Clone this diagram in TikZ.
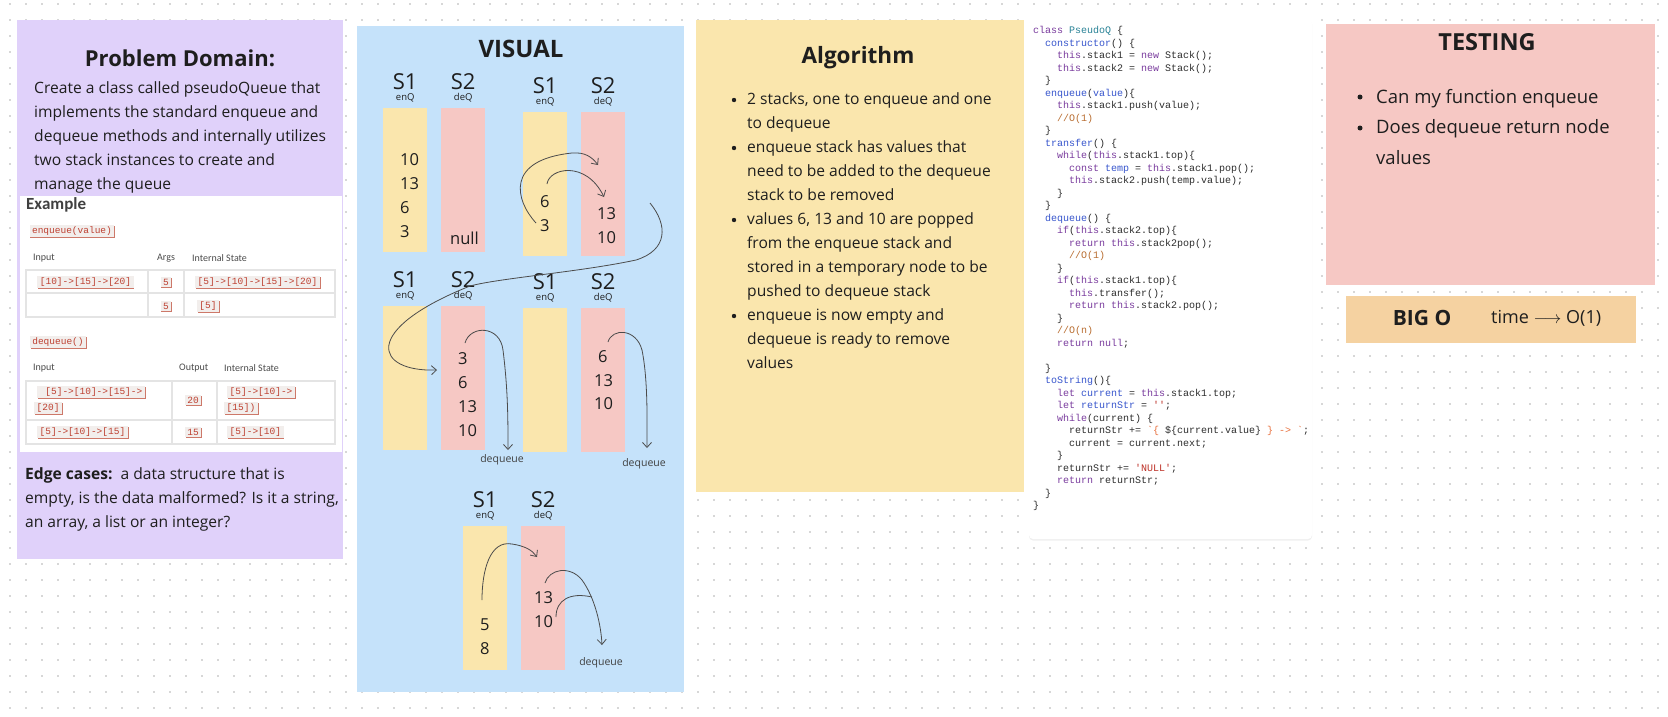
\documentclass[tikz,border=0pt]{standalone}
\usepackage{fontspec}
\setmainfont{Open Sans}
\setmonofont{Liberation Mono}
\newfontfamily\tablefont{Carlito}
\usepackage{tikz}
\usetikzlibrary{arrows.meta,shadows}

\definecolor{domainbg}{RGB}{224,209,250}
\definecolor{visualbg}{RGB}{197,226,250}
\definecolor{stackyel}{RGB}{250,230,173}
\definecolor{stackpink}{RGB}{246,200,196}
\definecolor{bigobg}{RGB}{245,210,161}
\definecolor{ink}{RGB}{30,30,30}
\definecolor{dotgray}{RGB}{215,215,215}
\definecolor{chipbg}{RGB}{242,238,236}
\definecolor{chiptxt}{RGB}{190,65,50}
\definecolor{chipedge}{RGB}{205,120,105}
\definecolor{rulegray}{RGB}{228,228,228}
\definecolor{kwpurple}{RGB}{122,60,158}
\definecolor{fnblue}{RGB}{55,85,205}
\definecolor{clsteal}{RGB}{40,130,150}
\definecolor{cmtbrown}{RGB}{185,110,50}
\definecolor{tplorange}{RGB}{232,112,62}
\definecolor{strred}{RGB}{190,50,40}
\definecolor{codeink}{RGB}{45,45,45}

\newcommand{\ckw}[1]{\textcolor{kwpurple}{#1}}
\newcommand{\cfn}[1]{\textcolor{fnblue}{#1}}
\newcommand{\ccm}[1]{\textcolor{cmtbrown}{#1}}
\newcommand{\cst}[1]{\textcolor{strred}{#1}}
\newcommand{\ctp}[1]{\textcolor{tplorange}{#1}}
\newcommand{\cind}[1]{\hspace*{#1\dimexpr 6pt\relax}}

\begin{document}
\begin{tikzpicture}[x=1pt,y=-1pt,
  every node/.style={text=ink},
  title/.style={font=\bfseries\fontsize{22}{26}\selectfont},
  body/.style={anchor=base west, inner sep=0, align=left, font=\fontsize{15.6}{24}\selectfont},
  chip/.style={fill=chipbg, text=chiptxt, inner xsep=2.5pt, inner ysep=1.8pt,
    font=\ttfamily\fontsize{9.5}{11}\selectfont,
    general shadow={fill=chipedge, shadow xshift=0.8pt, shadow yshift=-0.8pt}},
  colhead/.style={anchor=west, inner sep=0, text=ink!80, font=\tablefont\fontsize{10}{12}\selectfont},
  tablerule/.style={draw=rulegray, line width=1.2},
  stackone/.style={fill=stackyel, minimum width=44, minimum height=144, anchor=north west, inner sep=0},
  stacktwo/.style={stackone, fill=stackpink},
  slabel/.style={font=\fontsize{22}{24}\selectfont, inner sep=0},
  qlabel/.style={font=\fontsize{9.5}{10}\selectfont, inner sep=0},
  val/.style={anchor=west, inner sep=0, font=\fontsize{16.5}{18}\selectfont},
  hand/.style={draw=ink!80, line width=0.8, -{Straight Barb[length=5pt,width=9pt]}},
  note/.style={font=\fontsize{10.5}{12}\selectfont, inner sep=0, text=ink!85},
  codetext/.style={anchor=base west, inner sep=0, align=left, text=codeink, font=\ttfamily\fontsize{10}{12.5}\selectfont},
  dotgrid/.style={draw=dotgray, line width=2, dash pattern=on 2pt off 14pt}]

\useasboundingbox[fill=white] (0,0) rectangle (1668,716);
\foreach \r in {0,...,44}
  \draw[dotgrid] (9,4+16*\r) -- (1668,4+16*\r);

\fill[domainbg] (17,20) rectangle (343,559);
\fill[visualbg] (357,26) rectangle (684,692);
\fill[stackyel] (696,20) rectangle (1024,492);
\path[fill=white, rounded corners=4, drop shadow={opacity=0.12, shadow xshift=0pt, shadow yshift=-1.5pt}]
  (1029,19) rectangle (1312,539);
\fill[stackpink] (1326,24) rectangle (1655,285);
\fill[bigobg] (1346,296) rectangle (1636,343);

\node[title] (domaintitle) at (180,58) {Problem Domain:};
\node[body] (domaintext) at (34,189) {Create a class called pseudoQueue that\\implements the standard enqueue and\\dequeue methods and internally utilizes\\two stack instances to create and\\manage the queue};

\fill[white] (20,196) rectangle (342,452);
\node[anchor=west, inner sep=0, text=ink!85, font=\tablefont\bfseries\fontsize{17}{20}\selectfont] (example) at (26,205) {Example};
\node[chip] (enqcall) at (72,231) {enqueue(value)};
\node[colhead] (inhead1) at (33,258) {Input};
\node[colhead] (arghead) at (157,258) {Args};
\node[colhead] (statehead1) at (192,258) {Internal State};
\draw[tablerule] (26,270) rectangle (335,317) (26,293) -- (335,293) (148,270) -- (148,317) (184,270) -- (184,317);
\node[chip] (in1) at (85.5,282) {[10]->[15]->[20]};
\node[chip] (arg1) at (166,282) {5};
\node[chip] (st1) at (257.5,282) {[5]->[10]->[15]->[20]};
\node[chip] (arg2) at (166,306) {5};
\node[chip] (st2) at (208,306) {[5]};

\node[chip] (deqcall) at (58,342) {dequeue()};
\node[colhead] (inhead2) at (33,368) {Input};
\node[colhead] (outhead) at (179,368) {Output};
\node[colhead] (statehead2) at (224,368) {Internal State};
\draw[tablerule] (26,381) rectangle (335,444) (26,420) -- (335,420) (172,381) -- (172,444) (217,381) -- (217,444);
\node[chip, anchor=west] (in3a) at (37,392) {\ [5]->[10]->[15]->};
\node[chip, anchor=west] (in3b) at (34,408) {[20]};
\node[chip] (out3) at (193,400) {20};
\node[chip, anchor=west] (st3a) at (227,392) {[5]->[10]->};
\node[chip, anchor=west] (st3b) at (224,408) {[15])};
\node[chip, anchor=west] (in4) at (37,432) {[5]->[10]->[15]};
\node[chip] (out4) at (193,432) {15};
\node[chip, anchor=west] (st4) at (227,432) {[5]->[10]};

\node[body] (edgecases) at (25,527) {\textbf{Edge cases:}\ \ a data structure that is\\empty, is the data malformed? Is it a string,\\an array, a list or an integer?};

\node[title, font=\bfseries\fontsize{24}{28}\selectfont] (visualtitle) at (521,49) {VISUAL};
\foreach \g/\x/\y in {a/383/108,b/523/112,c/383/306,d/523/308,e/463/526}{
  \node[stackone] (\g1) at (\x,\y) {};
  \node[stacktwo] (\g2) at (\x+58,\y) {};
  \node[slabel] (\g-s1) at ([yshift=26]\g1.north) {S1};
  \node[slabel] (\g-s2) at ([yshift=26]\g2.north) {S2};
  \node[qlabel] (\g-q1) at ([yshift=10]\g1.north) {enQ};
  \node[qlabel] (\g-q2) at ([yshift=10]\g2.north) {deQ};
}
\foreach \n/\x/\y/\t in {av1/400/160/10, av2/400/184/13, av3/400/208/6, av4/400/232/3, anull/450/238/null,
    bv1/540/202/6, bv2/540/226/3, bw1/597/214/13, bw2/597/238/10,
    cw1/458/359/3, cw2/458/383/6, cw3/458/407/13, cw4/458/431/10,
    dw1/598/357/6, dw2/594/381/13, dw3/594/404/10,
    ev1/480/625/5, ev2/480/649/8, ew1/534/598/13, ew2/534/622/10}
  \node[val] (\n) at (\x,\y) {\t};

\coordinate (bpop1) at (536,223);
\coordinate (bpush1) at (598,165);
\coordinate (bpop2) at (547,184);
\coordinate (bpush2) at (604,197);
\coordinate (bmove) at (650,203);
\coordinate (cin) at (437,370);
\coordinate (cpop) at (465,343);
\coordinate (cout) at (508,450);
\coordinate (dpop) at (608,342);
\coordinate (dout) at (647,448);
\coordinate (epush) at (482,600);
\coordinate (ein) at (537,557);
\coordinate (epop1) at (545,583);
\coordinate (epop2) at (556,617);
\coordinate (emerge) at (592,597);
\coordinate (eout) at (602,645);

\draw[hand] (bpop1) .. controls (515,200) and (505,160) .. (572,153) .. controls (585,152) and (592,157) .. (bpush1);
\draw[hand] (bpop2) .. controls (549,168) and (586,160) .. (bpush2);
\draw[hand] (bmove) .. controls (668,225) and (668,250) .. (636,260) .. controls (580,272) and (500,278) .. (470,286) .. controls (360,330) and (375,372) .. (cin);
\draw[hand] (cpop) .. controls (470,325) and (500,325) .. (503,350) .. controls (508,390) and (508,420) .. (cout);
\draw[hand] (dpop) .. controls (612,328) and (636,328) .. (642,350) .. controls (648,380) and (647,420) .. (dout);
\draw[hand] (epush) .. controls (482,570) and (490,540) .. (512,544) .. controls (525,546) and (532,550) .. (ein);
\draw[hand] (epop1) .. controls (549,569) and (570,565) .. (582,580) .. controls (595,598) and (601,625) .. (eout);
\draw[hand, -] (epop2) .. controls (556,600) and (570,592) .. (emerge);
\node[note] (cdeq) at (502,460) {dequeue};
\node[note] (ddeq) at (644,464) {dequeue};
\node[note] (edeq) at (601,663) {dequeue};

\node[title, font=\bfseries\fontsize{22.5}{26}\selectfont] (algtitle) at (858,58) {Algorithm};
\node[body] (algtext) at (747,368) {2 stacks, one to enqueue and one\\to dequeue\\enqueue stack has values that\\need to be added to the dequeue\\stack to be removed\\values 6, 13 and 10 are popped\\from the enqueue stack and\\stored in a temporary node to be\\pushed to dequeue stack\\enqueue is now empty and\\dequeue is ready to remove\\values};
\foreach \k in {0,2,5,9}
  \fill[ink] (734,100+24*\k) circle (2.2);

\node[codetext] (code) at (1033,508.5) {%
\ckw{class} \textcolor{clsteal}{PseudoQ} \{\\
\cind{2}\cfn{constructor}() \{\\
\cind{4}\ckw{this}.stack1 = \ckw{new} Stack();\\
\cind{4}\ckw{this}.stack2 = \ckw{new} Stack();\\
\cind{2}\}\\
\cind{2}\cfn{enqueue}(\cfn{value})\{\\
\cind{4}\ckw{this}.stack1.push(value);\\
\cind{4}\ccm{//O(1)}\\
\cind{2}\}\\
\cind{2}\cfn{transfer}() \{\\
\cind{4}\ckw{while}(\ckw{this}.stack1.top)\{\\
\cind{6}\ckw{const} \cfn{temp} = \ckw{this}.stack1.pop();\\
\cind{6}\ckw{this}.stack2.push(temp.value);\\
\cind{4}\}\\
\cind{2}\}\\
\cind{2}\cfn{dequeue}() \{\\
\cind{4}\ckw{if}(\ckw{this}.stack2.top)\{\\
\cind{6}\ckw{return} \ckw{this}.stack2pop();\\
\cind{6}\ccm{//O(1)}\\
\cind{4}\}\\
\cind{4}\ckw{if}(\ckw{this}.stack1.top)\{\\
\cind{6}\ckw{this}.transfer();\\
\cind{6}\ckw{return} \ckw{this}.stack2.pop();\\
\cind{4}\}\\
\cind{4}\ccm{//O(n)}\\
\cind{4}\ckw{return} \ckw{null};\\
\mbox{}\\
\cind{2}\}\\
\cind{2}\cfn{toString}()\{\\
\cind{4}\ckw{let} \cfn{current} = \ckw{this}.stack1.top;\\
\cind{4}\ckw{let} \cfn{returnStr} = \cst{''};\\
\cind{4}\ckw{while}(current) \{\\
\cind{6}returnStr += \ctp{`\{\ }\$\{current.value\}\ctp{\ \}\ ->\ `};\\
\cind{6}current = current.next;\\
\cind{4}\}\\
\cind{4}returnStr += \cst{'NULL'};\\
\cind{4}\ckw{return} returnStr;\\
\cind{2}\}\\
\}};

\node[title, font=\bfseries\fontsize{23.5}{27}\selectfont] (testtitle) at (1487,42) {TESTING};
\node[body, font=\fontsize{18.5}{30.5}\selectfont] (tests) at (1376,164) {Can my function enqueue\\Does dequeue return node\\values};
\fill[ink] (1360,97) circle (2.5);
\fill[ink] (1360,128) circle (2.5);

\node[title, font=\bfseries\fontsize{21}{24}\selectfont] (bigo) at (1422,318) {BIG O};
\node[anchor=west, inner sep=0, font=\fontsize{18}{20}\selectfont] (timecost) at (1491,318) {time $\longrightarrow$ O(1)};
\end{tikzpicture}
\end{document}
